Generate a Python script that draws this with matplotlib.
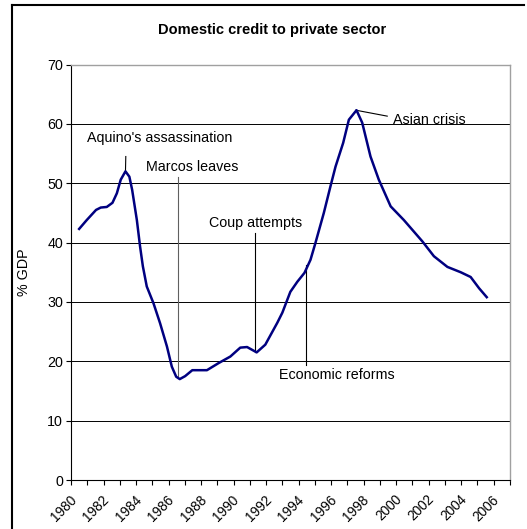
import matplotlib
matplotlib.use("Agg")
import matplotlib.pyplot as plt
import numpy as np

plt.rcParams['font.family'] = ['Liberation Sans', 'DejaVu Sans']

# credit to private sector, % of GDP
years = [1980.0, 1980.47, 1981.04, 1981.33, 1981.7, 1982.05, 1982.32, 1982.56,
         1982.85, 1983.09, 1983.26, 1983.55, 1983.75, 1983.92, 1984.16, 1984.57,
         1984.98, 1985.4, 1985.7, 1985.97, 1986.19, 1986.52, 1986.96, 1987.86,
         1988.58, 1989.3, 1989.91, 1990.33, 1990.92, 1991.45, 1992.19, 1992.5,
         1992.99, 1993.42, 1993.86, 1994.23, 1994.53, 1995.05, 1995.46, 1995.77,
         1996.24, 1996.59, 1997.06, 1997.41, 1997.92, 1998.43, 1999.16, 1999.97,
         2001.11, 2001.82, 2002.65, 2003.47, 2004.08, 2004.6, 2005.07]
credit = [42.3, 43.8, 45.5, 45.9, 46.0, 46.7, 48.3, 50.6,
          52.0, 51.1, 48.9, 43.8, 39.3, 36.0, 32.6, 29.8,
          26.4, 22.5, 19.1, 17.4, 17.0, 17.5, 18.5, 18.5,
          19.7, 20.8, 22.3, 22.4, 21.5, 22.8, 26.5, 28.2,
          31.7, 33.4, 34.9, 37.1, 39.9, 45.0, 49.5, 52.8,
          56.8, 60.7, 62.3, 60.2, 54.5, 50.6, 46.1, 43.8,
          40.2, 37.7, 35.9, 35.0, 34.2, 32.3, 30.8]

# event labels: text, text position, leader line (x0, y0) -> (x1, y1)
events = ["Aquino's assassination", "Marcos leaves", "Coup attempts",
          "Economic reforms", "Asian crisis"]
text_pos = [(1984.95, 57.6, 'center'), (1986.97, 52.8, 'center'),
            (1990.87, 43.3, 'center'), (1995.82, 17.7, 'center'),
            (1999.30, 60.7, 'left')]
leaders = [((1982.87, 54.5), (1982.85, 52.0)),
           ((1986.07, 51.1), (1986.07, 17.4)),
           ((1990.84, 41.6), (1990.84, 21.5)),
           ((1993.94, 36.3), (1993.94, 19.4)),
           ((1997.02, 62.3), (1998.95, 61.3))]
leader_colors = ['black', '#606060', 'black', 'black', 'black']

tick_years = list(range(1980, 2007, 2))

fig = plt.figure(figsize=(5.27, 5.29), dpi=100)
ax = fig.add_axes([71 / 527, 1 - 480 / 529, (510 - 71) / 527, (480 - 64.5) / 529])

# outer chart frame (cut off at right and bottom)
fig.add_artist(plt.Line2D([12 / 527, 524 / 527], [1 - 5 / 529, 1 - 5 / 529],
                          transform=fig.transFigure, color='black', lw=1.5))
fig.add_artist(plt.Line2D([12 / 527, 12 / 527], [0, 1 - 5 / 529],
                          transform=fig.transFigure, color='black', lw=1.5))

for y in range(10, 70, 10):
    ax.axhline(y, color='black', lw=0.7, zorder=1)

ax.plot(years, credit, color='#000080', lw=1.8, zorder=3)

for (x0, y0), (x1, y1), c in zip([l[0] for l in leaders], [l[1] for l in leaders], leader_colors):
    ax.plot([x0, x1], [y0, y1], color=c, lw=0.8, zorder=2)
for name, (tx, ty, ha) in zip(events, text_pos):
    ax.text(tx, ty, name, ha=ha, va='center', fontsize=10.3, color='black')

ax.set_xlim(1979.5, 2006.5)
ax.set_ylim(0, 70)
ax.set_yticks(range(0, 71, 10))
ax.tick_params(axis='y', direction='out', length=3.6, width=0.8, labelsize=10.3, pad=2)

ax.set_xticks(np.arange(1979.5, 2007, 1))
ax.set_xticklabels([])
ax.set_xticks(tick_years, minor=True)
ax.set_xticklabels([str(y) for y in tick_years], minor=True, rotation=45,
                   ha='right', va='top', fontsize=9.8)
ax.tick_params(axis='x', which='major', direction='out', length=3.6, width=0.8)
ax.tick_params(axis='x', which='minor', length=0, pad=9)

for s in ['left', 'bottom']:
    ax.spines[s].set_color('black')
    ax.spines[s].set_linewidth(0.8)
for s in ['top', 'right']:
    ax.spines[s].set_color('#a0a0a0')
    ax.spines[s].set_linewidth(1.0)

fig.text(271.7 / 527, 1 - 30 / 529, 'Domestic credit to private sector',
         ha='center', va='center', fontsize=10.5, fontweight='bold')
fig.text(24 / 527, 1 - 272 / 529, '% GDP', rotation=90, ha='center', va='center',
         fontsize=10.3)

fig.savefig('out.png', dpi=100)
